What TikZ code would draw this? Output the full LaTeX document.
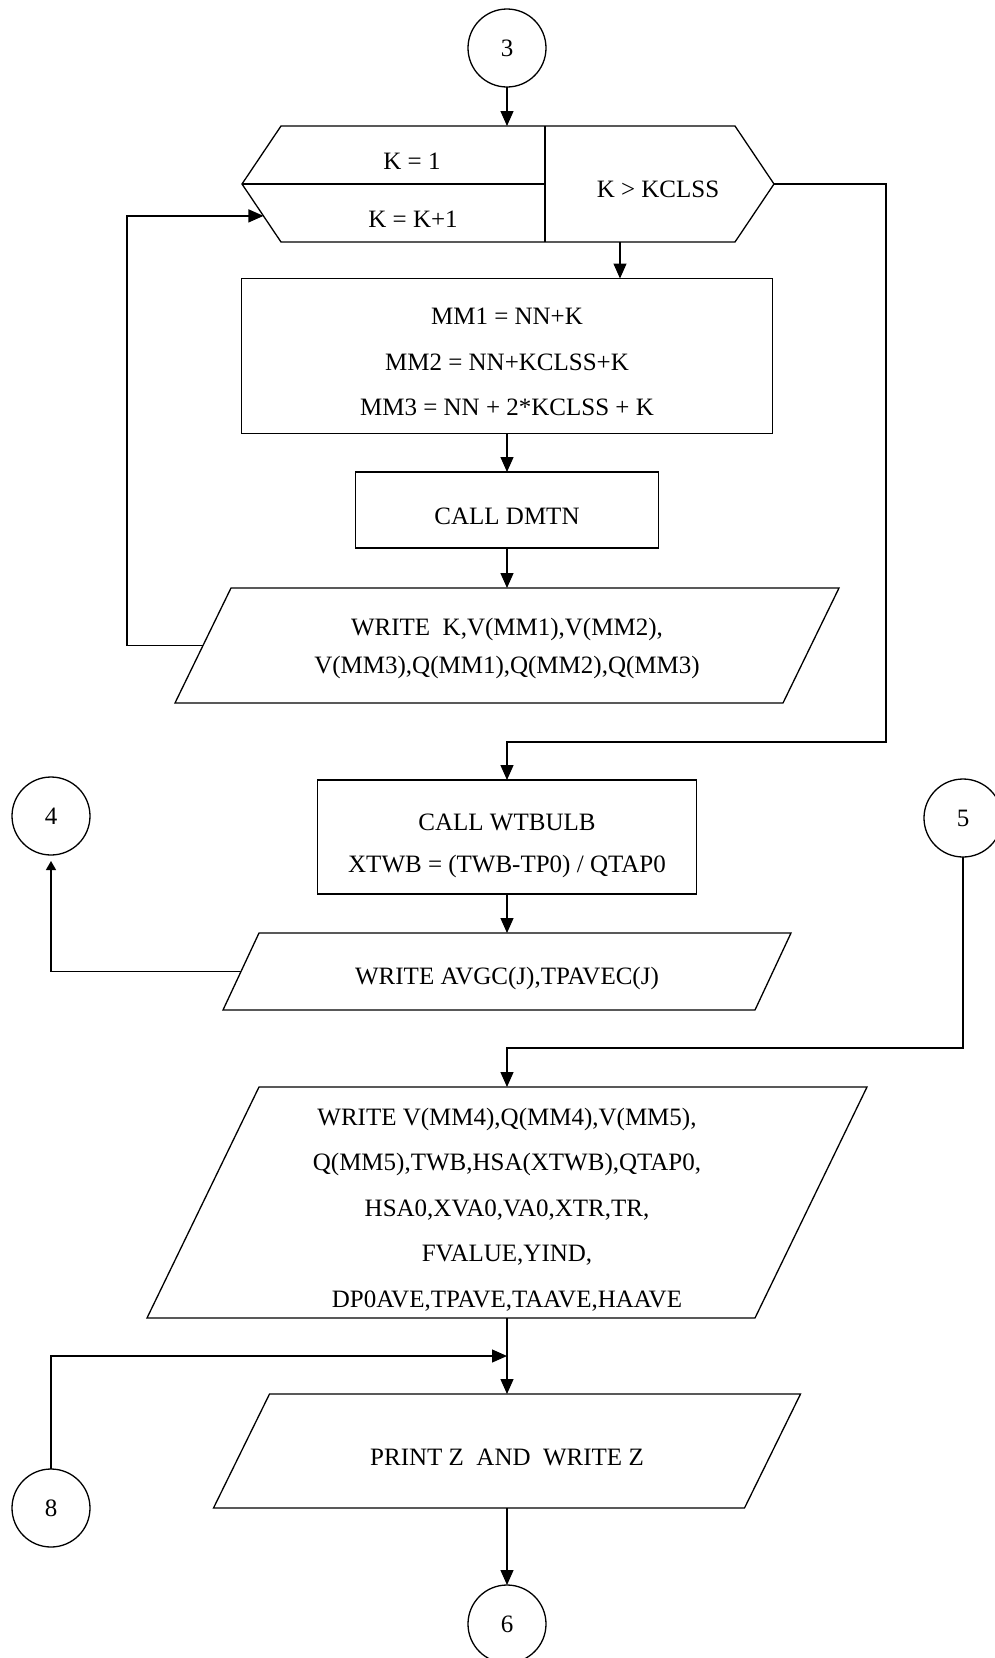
\documentclass[tikz,border=0pt]{standalone}
\usepackage{fontspec}
\setmainfont{Liberation Serif}
\usetikzlibrary{arrows.meta,calc}
\begin{document}
\begin{tikzpicture}[x=1pt,y=-1pt,
  line width=1.3pt,
  every node/.style={inner sep=0pt, outer sep=0pt},
  lbl/.style={font=\fontsize{25}{#1}\selectfont, align=center},
  conn/.style={circle, draw, minimum size=78pt, font=\fontsize{25}{28}\selectfont},
  procbox/.style={draw, rectangle},
  arrowline/.style={-{Triangle[length=15pt,width=13pt]}},
  arrowsmall/.style={-{Triangle[length=9pt,width=10pt]}, shorten >=6pt},
]
\useasboundingbox (0,0) rectangle (995,1658);

% entry connector
\node[conn] (c3) at (507,48) {3};

% loop header: init | step | exit test
\node (hx) at (508,184) [minimum width=532pt, minimum height=116pt] {};
\draw (hx.west) -- ([xshift=39pt]hx.north west) -- ([xshift=-39pt]hx.north east)
  -- (hx.east) -- ([xshift=-39pt]hx.south east) -- ([xshift=39pt]hx.south west) -- cycle;
\coordinate (hdiv) at (545,184);
\draw (hdiv |- hx.north) -- (hdiv |- hx.south);
\draw (hx.west) -- (hdiv);
\node[lbl=28] (kinit) at (412,161) {K = 1};
\node[lbl=28] (kstep) at (413,219) {K = K+1};
\node[lbl=28] (ktest) at (658,189) {K > KCLSS};
\coordinate (hexit) at (620,242);
\coordinate (hin) at ($(hx.west)!0.55!([xshift=39pt]hx.south west)$);
\coordinate (lturn) at (127,0);
\coordinate (rturn) at (886,742);

% loop body
\node[procbox, minimum width=531pt, minimum height=155pt] (mm) at (507,356) {};
\node[lbl=45.5] (mmtext) at ([yshift=-6pt]mm.center)
  {MM1 = NN+K\\MM2 = NN+KCLSS+K\\MM3 = NN + 2*KCLSS + K};
\node[procbox, minimum width=303pt, minimum height=76pt] (dmtn) at (507,510) {};
\node[lbl=28] (dmtntext) at ([yshift=-6pt]dmtn.center) {CALL DMTN};
\node[minimum width=608pt, minimum height=115pt] (p1) at (507,645.5) {};
\draw ([xshift=28pt]p1.north west) -- ([xshift=28pt]p1.north east)
  -- ([xshift=-28pt]p1.south east) -- ([xshift=-28pt]p1.south west) -- cycle;
\node[lbl=38] (p1text) at ([yshift=-3pt]p1.center)
  {WRITE \ K,V(MM1),V(MM2),\\V(MM3),Q(MM1),Q(MM2),Q(MM3)};

% after the loop
\node[procbox, minimum width=379pt, minimum height=114pt] (wt) at (507,837) {};
\node[lbl=42] (wttext) at ([yshift=-9pt]wt.center) {CALL WTBULB\\XTWB = (TWB-TP0) / QTAP0};
\node[conn] (c4) at (51,816) {4};
\node[conn] (c5) at (963,818) {5};
\node[minimum width=532pt, minimum height=77pt] (p2) at (507,971.5) {};
\draw ([xshift=18pt]p2.north west) -- ([xshift=18pt]p2.north east)
  -- ([xshift=-18pt]p2.south east) -- ([xshift=-18pt]p2.south west) -- cycle;
\node[lbl=28] (p2text) at ([yshift=-7pt]p2.center) {WRITE AVGC(J),TPAVEC(J)};

\node[minimum width=608pt, minimum height=231pt] (p3) at (507,1202.5) {};
\draw ([xshift=56pt]p3.north west) -- ([xshift=56pt]p3.north east)
  -- ([xshift=-56pt]p3.south east) -- ([xshift=-56pt]p3.south west) -- cycle;
\node[lbl=45.5] (p3text) at ([yshift=-7pt]p3.center)
  {WRITE V(MM4),Q(MM4),V(MM5),\\Q(MM5),TWB,HSA(XTWB),QTAP0,\\HSA0,XVA0,VA0,XTR,TR,\\FVALUE,YIND,\\DP0AVE,TPAVE,TAAVE,HAAVE};

\node[minimum width=531pt, minimum height=114pt] (p4) at (507,1451) {};
\draw ([xshift=28pt]p4.north west) -- ([xshift=28pt]p4.north east)
  -- ([xshift=-28pt]p4.south east) -- ([xshift=-28pt]p4.south west) -- cycle;
\node[lbl=28] (p4text) at ([yshift=-6pt]p4.center) {PRINT Z\ \ AND\ \ WRITE Z};

\node[conn] (c8) at (51,1508) {8};
\node[conn] (c6) at (507,1624) {6};
\coordinate (j5) at (963,1048);
\coordinate (jn) at ($(p3.south)!0.5!(p4.north)$);

% connectors
\draw[arrowline] (c3.south) -- (c3.south |- hx.north);
\draw[arrowline] (hexit) -- (hexit |- mm.north);
\draw[arrowline] (mm.south) -- (dmtn.north);
\draw[arrowline] (dmtn.south) -- (p1.north);
\draw[arrowline] (p1.west) -| (lturn |- hin) -- (hin);
\draw[arrowline] (hx.east) -| (rturn) -| (wt.north);
\draw[arrowline] (wt.south) -- (p2.north);
\draw[arrowsmall] (p2.west) -| (c4.south);
\draw[arrowline] (c5.south) -- (j5) -| (p3.north);
\draw[arrowline] (p3.south) -- (p4.north);
\draw[arrowline] (c8.north) |- (jn);
\draw[arrowline] (p4.south) -- (c6.north);
\end{tikzpicture}
\end{document}
